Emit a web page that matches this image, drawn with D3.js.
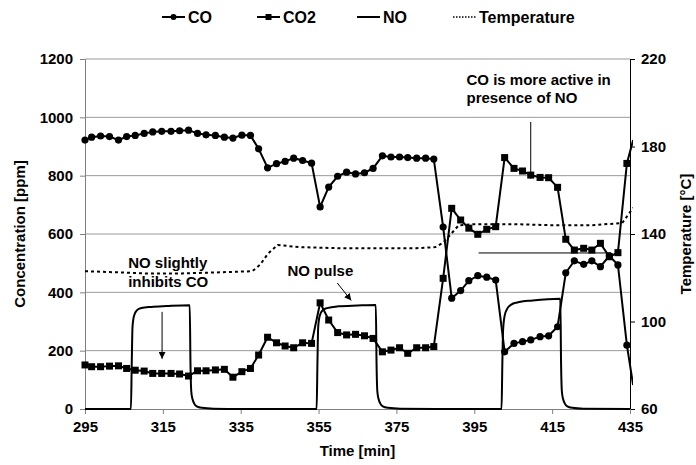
<!DOCTYPE html>
<html>
<head>
<meta charset="utf-8">
<script src="https://cdn.jsdelivr.net/npm/d3@7"></script>
<style>
  body { margin: 0; background: #fff; }
  text { font-family: "Liberation Sans", Arial, sans-serif; font-weight: bold; fill: #000; }
</style>
</head>
<body>
<div id="chart"></div>
<script>
// sampling times of the CO / CO2 analyser [min]
const timeMin = [295, 296.7, 299.0, 301.3, 303.6, 305.7, 307.9, 310.2, 312.4, 314.7, 317.1, 319.3, 321.6, 323.9, 326.1, 328.5, 330.8, 333.0, 335.3, 337.5, 339.6,
  341.9, 344.2, 346.4, 348.6, 350.9, 353.2, 355.4, 357.6, 359.9, 362.2, 364.5, 366.8, 369.0, 371.4, 373.6, 375.8,
  377.9, 380.2, 382.5, 384.6, 387.0, 389.2, 391.5, 393.6, 395.9, 398.2, 400.5,
  402.8, 405.2, 407.4, 409.5, 411.9, 414.1, 416.4, 418.5, 420.7, 423.1, 425.2, 427.4, 429.7, 431.9, 434.2, 435.8];
const coPpm = [922, 932, 936, 934, 922, 934, 938, 945, 950, 952, 952, 954, 956, 945, 940, 938, 932, 929, 939, 938, 892,
  827, 841, 849, 860, 852, 843, 693, 761, 798, 812, 806, 810, 825, 868, 864, 864,
  862, 860, 860, 857, 624, 380, 406, 440, 457, 452, 442,
  196, 225, 231, 237, 248, 251, 282, 467, 508, 496, 508, 488, 525, 494, 219, 82];
const co2Ppm = [151, 145, 145, 147, 148, 139, 133, 130, 122, 122, 122, 120, 113, 131, 131, 134, 136, 109, 128, 139, 185,
  246, 227, 216, 210, 227, 225, 364, 305, 262, 254, 256, 251, 242, 196, 202, 210,
  191, 210, 210, 214, 448, 688, 648, 620, 599, 616, 625,
  862, 825, 816, 802, 794, 793, 760, 582, 545, 551, 545, 568, 522, 536, 842, 922];

// NO analyser (continuous trace)
const noTime = [295, 306.8, 307.0, 307.2, 307.6, 308.3, 309.5, 312, 316, 321.9, 322.1, 322.3, 322.6, 323.0, 323.7, 325, 328, 335,
  354.5, 354.7, 354.9, 355.3, 356.0, 357.2, 360, 365, 369.7, 369.9, 370.1, 370.4, 370.8, 371.5, 372.8, 376, 385,
  402.0, 402.2, 402.4, 402.8, 403.5, 404.5, 406, 410, 417.1, 417.3, 417.5, 417.8, 418.2, 418.9, 420.2, 423, 435];
const noPpm = [0, 0, 150, 280, 320, 338, 346, 350, 353, 356, 150, 60, 35, 20, 9, 4, 1, 0,
  0, 150, 280, 320, 338, 346, 352, 355, 357, 150, 60, 35, 20, 9, 4, 1, 0,
  0, 150, 270, 320, 345, 358, 365, 372, 378, 150, 60, 35, 20, 9, 4, 1, 0];

// reactor temperature [°C]
const tempTime = [295, 303, 310, 320, 330, 338, 340, 342, 344.5, 350, 360, 370, 380, 385, 387, 389, 391, 395, 405, 415, 425, 433, 435.8];
const tempC = [123, 122.5, 122, 122, 122.5, 123, 126, 131, 135, 134, 133.5, 133.5, 133.5, 134, 136, 140, 144, 144.5, 144.5, 144, 144, 145, 152];

const xTicks = [295, 315, 335, 355, 375, 395, 415, 435];
const leftTicks = [0, 200, 400, 600, 800, 1000, 1200];
const rightTicks = [60, 100, 140, 180, 220];

const width = 696, height = 465;
const plot = { left: 85, right: 630, top: 59, bottom: 409 };
const tickFont = 15;

const svg = d3.select("#chart").append("svg")
  .attr("width", width)
  .attr("height", height);

const x = d3.scaleLinear().domain([295, 435]).range([plot.left, plot.right]);
const y = d3.scaleLinear().domain([0, 1200]).range([plot.bottom, plot.top]);
const yT = d3.scaleLinear().domain([60, 220]).range([plot.bottom, plot.top]);

// gridlines
svg.append("g")
  .selectAll("line")
  .data(leftTicks.filter(d => d > 0))
  .enter().append("line")
  .attr("x1", plot.left).attr("x2", plot.right)
  .attr("y1", d => y(d)).attr("y2", d => y(d))
  .attr("stroke", "#9a9a9a")
  .attr("stroke-width", 1);

function styleTicks(g) {
  g.selectAll("text")
    .attr("font-size", tickFont)
    .style("font-family", "Liberation Sans")
    .style("font-weight", "bold")
    .attr("fill", "#000");
}

// left axis
const leftAxis = svg.append("g")
  .attr("transform", `translate(${plot.left},0)`)
  .call(d3.axisLeft(y).tickValues(leftTicks).tickFormat(d3.format("d")).tickSize(5).tickPadding(7));
leftAxis.select(".domain").attr("stroke", "#808080");
leftAxis.selectAll(".tick line").attr("stroke", "#808080");
styleTicks(leftAxis);

// right axis
const rightAxis = svg.append("g")
  .attr("transform", `translate(${plot.right},0)`)
  .call(d3.axisRight(yT).tickValues(rightTicks).tickSize(5).tickPadding(6));
rightAxis.select(".domain").attr("stroke", "#000");
styleTicks(rightAxis);

// bottom axis
const bottomAxis = svg.append("g")
  .attr("transform", `translate(0,${plot.bottom})`)
  .call(d3.axisBottom(x).tickValues(xTicks).tickSize(5).tickPadding(7));
bottomAxis.select(".domain").attr("stroke", "#808080");
bottomAxis.selectAll(".tick line").attr("stroke", "#808080");
styleTicks(bottomAxis);

// axis titles
svg.append("text")
  .attr("transform", `translate(20,${(plot.top + plot.bottom) / 2}) rotate(-90)`)
  .attr("text-anchor", "middle").attr("dy", "0.35em")
  .attr("font-size", 15)
  .text("Concentration [ppm]");
svg.append("text")
  .attr("transform", `translate(686,${(plot.top + plot.bottom) / 2}) rotate(-90)`)
  .attr("text-anchor", "middle").attr("dy", "0.35em")
  .attr("font-size", 15)
  .text("Temperature [°C]");
svg.append("text")
  .attr("x", (plot.left + plot.right) / 2).attr("y", 456)
  .attr("text-anchor", "middle")
  .attr("font-size", 15)
  .text("Time [min]");

// clip for series
const defs = svg.append("defs");
defs.append("clipPath").attr("id", "clip")
  .append("rect")
  .attr("x", plot.left - 5).attr("y", plot.top - 10)
  .attr("width", plot.right - plot.left + 8).attr("height", plot.bottom - plot.top + 14);

defs.append("marker")
  .attr("id", "arrow")
  .attr("viewBox", "0 0 10 10")
  .attr("refX", 10).attr("refY", 5)
  .attr("markerWidth", 7).attr("markerHeight", 7)
  .attr("markerUnits", "userSpaceOnUse")
  .attr("orient", "auto")
  .append("path").attr("d", "M0,0L10,5L0,10z").attr("fill", "#000");

const series = svg.append("g").attr("clip-path", "url(#clip)");

// temperature (dotted)
const tempLine = d3.line().x((d, i) => x(tempTime[i])).y(d => yT(d));
series.append("path")
  .datum(tempC)
  .attr("d", tempLine)
  .attr("fill", "none")
  .attr("stroke", "#000")
  .attr("stroke-width", 2)
  .attr("stroke-dasharray", "3,3");

// NO
const noLine = d3.line().x((d, i) => x(noTime[i])).y(d => y(d)).curve(d3.curveMonotoneX);
series.append("path")
  .datum(noPpm)
  .attr("d", noLine)
  .attr("fill", "none")
  .attr("stroke", "#000")
  .attr("stroke-width", 2);

// CO2
const sampleLine = d3.line().x((d, i) => x(timeMin[i])).y(d => y(d));
series.append("path")
  .datum(co2Ppm)
  .attr("d", sampleLine)
  .attr("fill", "none")
  .attr("stroke", "#000")
  .attr("stroke-width", 2);
series.append("g")
  .selectAll("rect")
  .data(co2Ppm.map((v, i) => ({ t: timeMin[i], v })).filter(d => d.t <= 435))
  .enter().append("rect")
  .attr("x", d => x(d.t) - 3.5)
  .attr("y", d => y(d.v) - 3.5)
  .attr("width", 7).attr("height", 7)
  .attr("fill", "#000");

// CO
series.append("path")
  .datum(coPpm)
  .attr("d", sampleLine)
  .attr("fill", "none")
  .attr("stroke", "#000")
  .attr("stroke-width", 2);
series.append("g")
  .selectAll("circle")
  .data(coPpm.map((v, i) => ({ t: timeMin[i], v })).filter(d => d.t <= 435))
  .enter().append("circle")
  .attr("cx", d => x(d.t))
  .attr("cy", d => y(d.v))
  .attr("r", 3.6)
  .attr("fill", "#000");

// annotations (data coordinates)
const notes = [
  { t: 306.1, v: 500, lines: ["NO slightly", "inhibits CO"] },
  { t: 347.0, v: 473, lines: ["NO pulse"] },
  { t: 393.0, v: 1130, lines: ["CO is more active in", "presence of NO"] }
];
const arrows = [
  { t1: 314.8, v1: 333, t2: 314.8, v2: 172 },
  { t1: 359.8, v1: 432, t2: 363.4, v2: 372 },
  { t1: 409.5, v1: 984, t2: 409.5, v2: 790 }
];
notes.forEach(n => {
  const tx = svg.append("text")
    .attr("x", x(n.t)).attr("y", y(n.v))
    .attr("font-size", 15);
  n.lines.forEach((l, i) => {
    tx.append("tspan").attr("x", x(n.t)).attr("dy", i === 0 ? "0.35em" : "1.25em").text(l);
  });
});
svg.append("g")
  .selectAll("line")
  .data(arrows)
  .enter().append("line")
  .attr("x1", d => x(d.t1)).attr("y1", d => y(d.v1))
  .attr("x2", d => x(d.t2)).attr("y2", d => y(d.v2))
  .attr("stroke", "#000").attr("stroke-width", 1)
  .attr("marker-end", "url(#arrow)");
// plain marker line drawn in the original figure
svg.append("line")
  .attr("x1", x(396.1)).attr("x2", x(430.1))
  .attr("y1", y(535)).attr("y2", y(535))
  .attr("stroke", "#000").attr("stroke-width", 1);

// legend
const legendItems = [
  { name: "CO", x0: 162, type: "circle" },
  { name: "CO2", x0: 257, type: "square" },
  { name: "NO", x0: 357, type: "none" },
  { name: "Temperature", x0: 453, type: "dotted" }
];
const legend = svg.append("g").attr("transform", "translate(0,17)");
legendItems.forEach(it => {
  const g = legend.append("g");
  g.append("line")
    .attr("x1", it.x0).attr("x2", it.x0 + 23)
    .attr("y1", 0).attr("y2", 0)
    .attr("stroke", "#000")
    .attr("stroke-width", it.type === "dotted" ? 1.5 : 2)
    .attr("stroke-dasharray", it.type === "dotted" ? "1.5,1.5" : null);
  if (it.type === "circle") {
    g.append("circle").attr("cx", it.x0 + 11.5).attr("cy", 0).attr("r", 3).attr("fill", "#000");
  } else if (it.type === "square") {
    g.append("rect").attr("x", it.x0 + 8.5).attr("y", -3).attr("width", 6).attr("height", 6).attr("fill", "#000");
  }
  g.append("text")
    .attr("x", it.x0 + 26).attr("y", 0).attr("dy", "0.35em")
    .attr("font-size", 16)
    .text(it.name);
});
</script>
</body>
</html>
